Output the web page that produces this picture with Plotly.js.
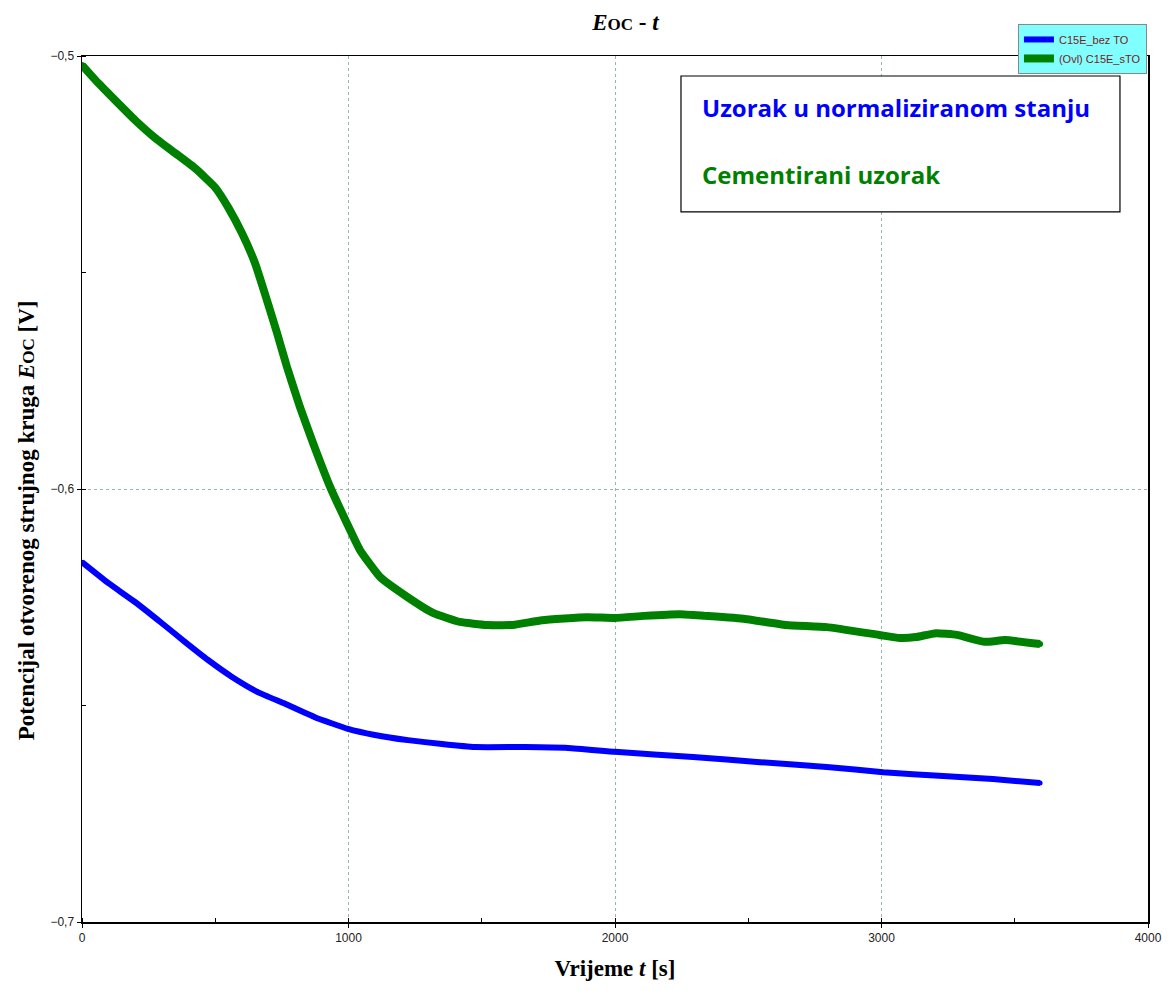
<!DOCTYPE html>
<html>
<head>
<meta charset="utf-8">
<script src="https://cdn.plot.ly/plotly-3.0.1.min.js"></script>
<style>html,body{margin:0;padding:0;background:#fff;}#chart{width:1169px;height:991px;}</style>
</head>
<body>
<div id="chart"></div>
<script>
// Cementirani uzorak (C15E_sTO)
const tGreen = [0, 60, 124, 199, 274, 349, 424, 499, 548, 600, 649, 694, 732, 769, 818, 867, 931, 994, 1043, 1118, 1220, 1317, 1418, 1520, 1617, 1726, 1895, 2000, 2109, 2244, 2338, 2488, 2642, 2795, 2991, 3069, 3129, 3204, 3283, 3388, 3463, 3595];
const vGreen = [-0.5021, -0.5062, -0.5102, -0.5148, -0.5189, -0.5224, -0.5259, -0.5303, -0.5349, -0.5409, -0.5478, -0.5564, -0.5640, -0.5718, -0.5811, -0.5894, -0.5995, -0.6079, -0.6141, -0.6203, -0.6249, -0.6286, -0.6307, -0.6314, -0.6314, -0.6303, -0.6296, -0.6298, -0.6293, -0.6289, -0.6293, -0.6300, -0.6314, -0.6319, -0.6337, -0.6344, -0.6342, -0.6333, -0.6337, -0.6353, -0.6349, -0.6358];
// Uzorak u normaliziranom stanju (C15E_bez TO)
const tBlue = [0, 98, 199, 300, 386, 473, 563, 660, 762, 874, 998, 1099, 1223, 1351, 1475, 1662, 1824, 2000, 2293, 2544, 2795, 3006, 3231, 3418, 3595];
const vBlue = [-0.6169, -0.6217, -0.6261, -0.6310, -0.6353, -0.6395, -0.6434, -0.6469, -0.6496, -0.6527, -0.6554, -0.6568, -0.6580, -0.6589, -0.6596, -0.6596, -0.6598, -0.6607, -0.6619, -0.6631, -0.6642, -0.6654, -0.6663, -0.6670, -0.6679];
const seriesNames = ["C15E_bez TO", "(Ovl) C15E_sTO"];
const boxLabels = ["Uzorak u normaliziranom stanju", "Cementirani uzorak"];

const traces = [
  {x: tBlue, y: vBlue, name: seriesNames[0], mode: 'lines+markers',
   line: {color: '#0000ff', width: 6, shape: 'spline', smoothing: 0.4}, marker: {color: '#0000ff', size: 5}},
  {x: tGreen, y: vGreen, name: seriesNames[1], mode: 'lines+markers',
   line: {color: '#008000', width: 8, shape: 'spline', smoothing: 0.4}, marker: {color: '#008000', size: 6}}
];

const serif = 'Liberation Serif, Times New Roman, serif';
const sans = 'Liberation Sans, Arial, sans-serif';

const layout = {
  width: 1169, height: 991,
  margin: {l: 82, r: 21, t: 56, b: 69},
  paper_bgcolor: '#fff', plot_bgcolor: '#fff',
  separators: ', ',
  showlegend: true,
  title: {text: '<b><i>E</i><span style="font-size:17px">OC</span> - <i>t</i></b>',
          font: {family: serif, size: 23, color: '#000'},
          x: 0.535, xanchor: 'center', y: 0.978, yanchor: 'middle'},
  xaxis: {range: [0, 4000], dtick: 1000, tick0: 0,
          showline: true, mirror: true, linecolor: '#000', linewidth: 1.5,
          showgrid: true, gridcolor: '#9ab4b4', griddash: 'dot', gridwidth: 1,
          zeroline: false, ticks: 'outside', ticklen: 4, tickcolor: '#000',
          tickfont: {family: sans, size: 12, color: '#222'},
          minor: {dtick: 500, ticks: 'inside', ticklen: 4, tickcolor: '#000', showgrid: false},
          title: {text: '<b>Vrijeme <i>t</i> [s]</b>', font: {family: serif, size: 23, color: '#000'}, standoff: 16}},
  yaxis: {range: [-0.7, -0.5], dtick: 0.1, tick0: -0.7,
          showline: true, mirror: true, linecolor: '#000', linewidth: 1.5,
          showgrid: true, gridcolor: '#9ab4b4', griddash: 'dot', gridwidth: 1,
          zeroline: false, ticks: 'outside', ticklen: 4, tickcolor: '#000',
          tickformat: '.1f',
          tickfont: {family: sans, size: 12, color: '#222'},
          minor: {dtick: 0.05, ticks: 'inside', ticklen: 4, tickcolor: '#000', showgrid: false}},
  legend: {x: 0.878, y: 1.037, xanchor: 'left', yanchor: 'top',
           bgcolor: '#80ffff', bordercolor: '#888', borderwidth: 1,
           font: {family: sans, size: 11, color: '#7a1a1a'},
           tracegroupgap: 0, itemwidth: 30},
  shapes: [
    {type: 'rect', xref: 'paper', yref: 'paper', x0: 0.5619, x1: 0.9737, y0: 0.8199, y1: 0.9769,
     line: {color: '#000', width: 1.2}, fillcolor: 'rgba(255,255,255,1)', layer: 'above'}
  ],
  annotations: [
    {xref: 'paper', yref: 'paper', x: 0.5797, y: 0.94, xanchor: 'left', yanchor: 'middle', showarrow: false,
     text: '<b>' + boxLabels[0] + '</b>', font: {family: 'Open Sans, sans-serif', size: 24, color: '#0000ff'}},
    {xref: 'paper', yref: 'paper', x: 0.5797, y: 0.8637, xanchor: 'left', yanchor: 'middle', showarrow: false,
     text: '<b>' + boxLabels[1] + '</b>', font: {family: 'Open Sans, sans-serif', size: 24, color: '#008000'}},
    {xref: 'paper', yref: 'paper', x: -0.0525, y: 0.464, xanchor: 'center', yanchor: 'middle', showarrow: false,
     textangle: -90,
     text: '<b>Potencijal otvorenog strujnog kruga <i>E</i><span style="font-size:17px">OC</span> [V]</b>',
     font: {family: serif, size: 23, color: '#000'}}
  ]
};

Plotly.newPlot('chart', traces, layout, {displayModeBar: false, staticPlot: true});
</script>
</body>
</html>
